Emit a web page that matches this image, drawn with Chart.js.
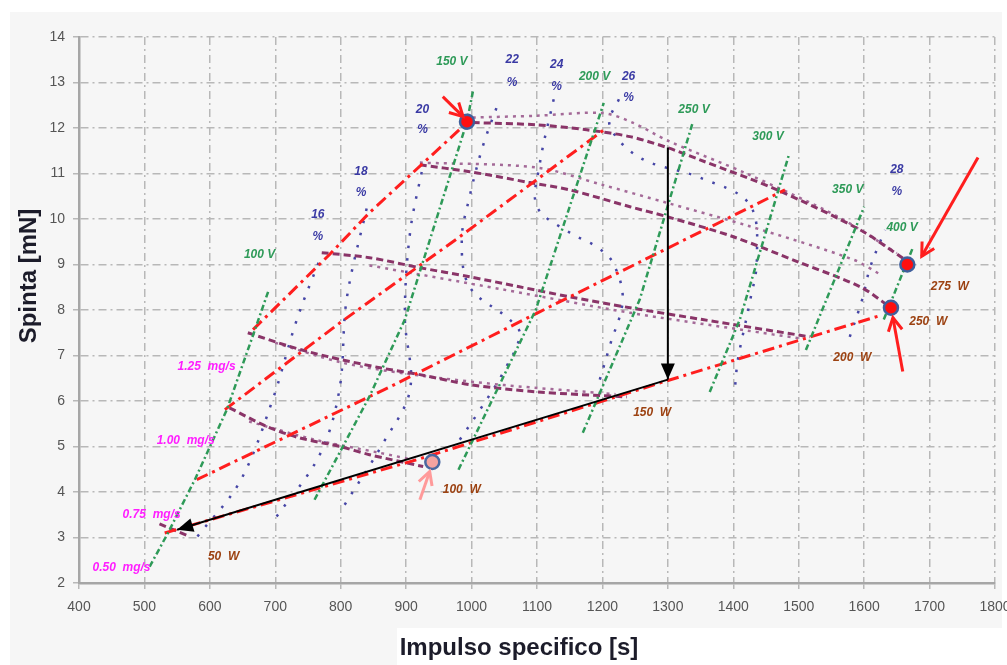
<!DOCTYPE html>
<html>
<head>
<meta charset="UTF-8">
<title>Spinta - impulso specifico</title>
<script src="https://cdn.jsdelivr.net/npm/chart.js"></script>
<style>
  body { margin: 0; background: #fff; }
  canvas { display: block; }
</style>
</head>
<body>
<canvas id="mappa" width="1007" height="665"></canvas>
<script>
// assi: impulso specifico [s] / spinta [mN]
const assex = [400, 1800, 100];
const assey = [2, 14, 1];

// tensione costante (verde)
const v100 = [[508,2.36],[536,3.10],[577,4.27],[626,5.81],[669,7.57],[689,8.40]];
const v150 = [[760,3.83],[844,6.10],[898,7.79],[993,12.14],[1002,12.80]];
const v200 = [[980,4.49],[1098,8.0],[1202,12.55]];
const v250 = [[1170,5.30],[1257,8.23],[1338,12.12]];
const v300 = [[1364,6.20],[1410,7.79],[1485,11.41]];
const v350 = [[1511,7.12],[1600,10.27]];
const v400 = [[1630,7.79],[1675,9.39]];

// portata costante (rosso)
const m075 = [[531,3.10],[921,4.73],[1293,6.42],[1625,7.88]];
const m100 = [[580,4.27],[875,6.31],[1104,7.96],[1479,10.64]];
const m125 = [[623,5.81],[799,7.72],[982,9.61],[1207,12.01]];
const m150 = [[666,7.57],[783,9.22],[844,10.14],[985,12.01]];

// potenza costante (viola)
const p50  = [[523,3.30],[569,3.02]];
const p100 = [[630,5.85],[687,5.44],[737,5.19],[799,5.0],[844,4.82],[926,4.56]];
const p150 = [[658,7.50],[722,7.20],[779,6.98],[860,6.73],[921,6.58],[997,6.36],[1100,6.20],[1237,6.09]];
const p200 = [[771,9.26],[844,9.15],[921,8.93],[997,8.73],[1073,8.51],[1150,8.29],[1242,8.05],[1353,7.79],[1517,7.41]];
const p250 = [[921,11.19],[997,11.04],[1089,10.80],[1150,10.64],[1242,10.27],[1299,10.05],[1400,9.61],[1502,9.04],[1594,8.51],[1641,8.05]];
const p275 = [[1002,12.12],[1100,12.07],[1176,11.96],[1242,11.81],[1299,11.57],[1349,11.30],[1467,10.64],[1594,9.76],[1663,9.10]];
// potenza costante, seconda serie (punteggiata)
const p100b = [[660,5.55],[760,5.15],[860,4.86],[920,4.68]];
const p150b = [[700,7.28],[800,6.85],[900,6.60],[1050,6.35],[1220,6.15]];
const p200b = [[844,8.98],[1048,8.45],[1242,7.94],[1420,7.55],[1500,7.38]];
const p250b = [[921,11.24],[1100,11.13],[1200,10.75],[1300,10.35],[1425,9.84],[1583,9.11],[1625,8.78]];
const p275b = [[1002,12.23],[1100,12.27],[1200,12.33],[1246,12.12],[1300,11.72],[1420,11.0],[1560,10.05],[1650,9.25]];

// efficienza (blu)
const e16 = [[581,3.02],[646,4.23],[696,6.03],[733,7.79],[771,9.22]];
const e18 = [[702,3.46],[768,4.82],[798,6.25],[809,8.23],[841,10.32]];
const e20 = [[806,3.72],[865,5.08],[906,6.25],[898,7.85],[906,9.70],[926,11.19]];
const e22 = [[982,5.15],[1013,5.81],[1048,6.62],[1074,7.46],[1058,7.79],[997,8.51],[985,9.54],[997,10.49],[1017,11.59],[1040,12.52]];
const e24 = [[1196,6.47],[1211,7.20],[1231,8.23],[1216,9.04],[1191,9.39],[1150,9.70],[1100,10.27],[1104,11.19],[1127,12.73]];
const e26 = [[1403,6.36],[1407,6.91],[1425,8.16],[1436,9.10],[1425,10.32],[1349,10.91],[1257,11.35],[1211,12.07],[1227,12.69]];
const e28 = [[1578,7.41],[1597,8.23],[1609,8.93],[1632,9.76]];

// punti di funzionamento
const puntiRossi = [[993,12.14],[1666,9.0],[1641,8.05]];
const puntoRosa = [[940,4.66]];

// frecce
const frecciaV = [[1300,11.57],[1300,6.47]];
const frecciaL = [[1300,6.47],[550,3.17]];
const frecciaR1 = [[956,12.69],[987,12.25]];
const frecciaR2 = [[1774,11.35],[1688,9.18]];
const frecciaR3 = [[1659,6.65],[1644,7.83]];
const frecciaR4 = [[921,3.83],[936,4.45]];

// etichette
const etichetteV = [['150 V',970,13.46],['200 V',1188,13.13],['250 V',1340,12.40],['300 V',1453,11.81],['350 V',1575,10.64],['400 V',1658,9.81],['100 V',676,9.22]];
const etichetteEff = [['22',1062,13.50,13.0],['24',1130,13.39,12.91],['26',1240,13.13,12.67],['20',925,12.40,11.96],['18',831,11.04,10.58],['16',765,10.10,9.61],['28',1650,11.08,10.60]];
const etichetteM = [['1.25  mg/s',595,6.75],['1.00  mg/s',563,5.13],['0.75  mg/s',511,3.50],['0.50  mg/s',465,2.34]];
const etichetteP = [['50  W',621,2.58],['100  W',985,4.05],['150  W',1276,5.74],['200  W',1582,6.95],['250  W',1698,7.74],['275  W',1731,8.51]];

const VERDE = '#2e9a58', ROSSO = '#ff1e1e', VIOLA = '#8a3468', VIOLA2 = '#a46a98', BLU = '#4646a6';

function linea(punti, colore, dash, spessore, tensione) {
  return {
    data: punti.map(p => ({x: p[0], y: p[1]})),
    showLine: true, fill: false, pointRadius: 0,
    borderColor: colore, borderDash: dash, borderWidth: spessore,
    tension: tensione || 0
  };
}

const datasets = [
  {data: puntiRossi.map(p => ({x: p[0], y: p[1]})), pointRadius: 7, pointBackgroundColor: '#ff0f0f', pointBorderColor: '#3f5f9c', pointBorderWidth: 2.5, showLine: false},
  {data: puntoRosa.map(p => ({x: p[0], y: p[1]})), pointRadius: 7, pointBackgroundColor: '#f4a3a0', pointBorderColor: '#4a68a0', pointBorderWidth: 2.5, showLine: false},
  linea(frecciaV, '#000', [], 2),
  linea(frecciaL, '#000', [], 2),
  linea(frecciaR1, ROSSO, [], 3),
  linea(frecciaR2, ROSSO, [], 3),
  linea(frecciaR3, ROSSO, [], 3),
  linea(frecciaR4, '#ff9a9a', [], 3)
];
[v100, v150, v200, v250, v300, v350, v400].forEach(v => datasets.push(linea(v, VERDE, [6, 3, 2, 3], 2.5)));
[m075, m100, m125, m150].forEach(m => datasets.push(linea(m, ROSSO, [12, 5, 3, 5], 3)));
[p50, p100, p150, p200, p250, p275].forEach(p => datasets.push(linea(p, VIOLA, [7, 4], 3, 0.3)));
[p100b, p150b, p200b, p250b, p275b].forEach(p => datasets.push(linea(p, VIOLA2, [3, 5], 2.5, 0.3)));
[e16, e18, e20, e22, e24, e26, e28].forEach(e => datasets.push(linea(e, BLU, [2.5, 10], 2.5, 0.35)));

const frecce = [
  [frecciaV, '#000', true], [frecciaL, '#000', true],
  [frecciaR1, ROSSO, false], [frecciaR2, ROSSO, false], [frecciaR3, ROSSO, false], [frecciaR4, '#ff9a9a', false]
];

const disegno = {
  id: 'disegno',
  beforeDraw(chart) {
    const c = chart.ctx;
    c.save();
    c.fillStyle = '#ffffff';
    c.fillRect(0, 0, chart.width, chart.height);
    c.fillStyle = '#f6f6f6';
    c.fillRect(10, 12, 992, 653);
    c.fillStyle = '#ffffff';
    c.fillRect(397, 628, 610, 37);
    c.restore();
  },
  afterDatasetsDraw(chart) {
    const c = chart.ctx, sx = chart.scales.x, sy = chart.scales.y;
    const px = v => sx.getPixelForValue(v), py = v => sy.getPixelForValue(v);
    c.save();
    // punte delle frecce
    frecce.forEach(([f, col, piena]) => {
      const x0 = px(f[0][0]), y0 = py(f[0][1]), x1 = px(f[1][0]), y1 = py(f[1][1]);
      const a = Math.atan2(y1 - y0, x1 - x0);
      const L = piena ? 16 : 13, W = 7;
      const bx = x1 - L * Math.cos(a), by = y1 - L * Math.sin(a);
      const nx = -Math.sin(a) * W, ny = Math.cos(a) * W;
      c.beginPath();
      c.moveTo(bx + nx, by + ny);
      c.lineTo(x1, y1);
      c.lineTo(bx - nx, by - ny);
      if (piena) {
        c.closePath();
        c.fillStyle = col;
        c.fill();
      } else {
        c.strokeStyle = col;
        c.lineWidth = 3;
        c.stroke();
      }
    });
    // etichette
    c.textAlign = 'center';
    c.textBaseline = 'middle';
    c.font = 'italic bold 12px "Liberation Sans", Arial, sans-serif';
    c.fillStyle = VERDE;
    etichetteV.forEach(([t, x, y]) => c.fillText(t, px(x), py(y)));
    c.fillStyle = '#3a3aa4';
    etichetteEff.forEach(([t, x, y1, y2]) => {
      c.fillText(t, px(x), py(y1));
      c.fillText('%', px(x), py(y2));
    });
    c.fillStyle = '#ff1eff';
    etichetteM.forEach(([t, x, y]) => c.fillText(t, px(x), py(y)));
    c.fillStyle = '#9c4212';
    etichetteP.forEach(([t, x, y]) => c.fillText(t, px(x), py(y)));
    // titoli degli assi
    c.font = 'bold 24px "Liberation Sans", Arial, sans-serif';
    c.fillStyle = '#1c1c2a';
    c.fillText('Impulso specifico [s]', 519, 648);
    c.translate(29, 276);
    c.rotate(-Math.PI / 2);
    c.fillText('Spinta [mN]', 0, 0);
    c.restore();
  }
};

Chart.defaults.font.family = '"Liberation Sans", Arial, sans-serif';

new Chart(document.getElementById('mappa'), {
  type: 'scatter',
  data: {datasets: datasets},
  options: {
    responsive: false,
    animation: false,
    layout: {padding: {top: 37, right: 12, left: 0, bottom: 0}},
    plugins: {legend: {display: false}, tooltip: {enabled: false}},
    scales: {
      x: {
        type: 'linear', min: assex[0], max: assex[1],
        ticks: {stepSize: assex[2], color: '#555', font: {size: 14}, padding: 10, maxRotation: 0, callback: v => String(v)},
        grid: {color: '#b8b8b8', lineWidth: 1.5, tickLength: 6, tickColor: '#b8b8b8'},
        border: {color: '#a6a6a6', width: 2.5, dash: [8, 4, 2, 4]},
        afterFit: s => { s.height = 82; s.paddingLeft = 0; s.paddingRight = 0; }
      },
      y: {
        type: 'linear', min: assey[0], max: assey[1],
        ticks: {stepSize: assey[2], color: '#555', font: {size: 14}, padding: 8, callback: v => String(v)},
        grid: {color: '#b8b8b8', lineWidth: 1.5, tickLength: 6, tickColor: '#b8b8b8'},
        border: {color: '#a6a6a6', width: 2.5, dash: [8, 4, 2, 4]},
        afterFit: s => { s.width = 79; s.paddingTop = 0; s.paddingBottom = 0; }
      }
    }
  },
  plugins: [disegno]
});
</script>
</body>
</html>
